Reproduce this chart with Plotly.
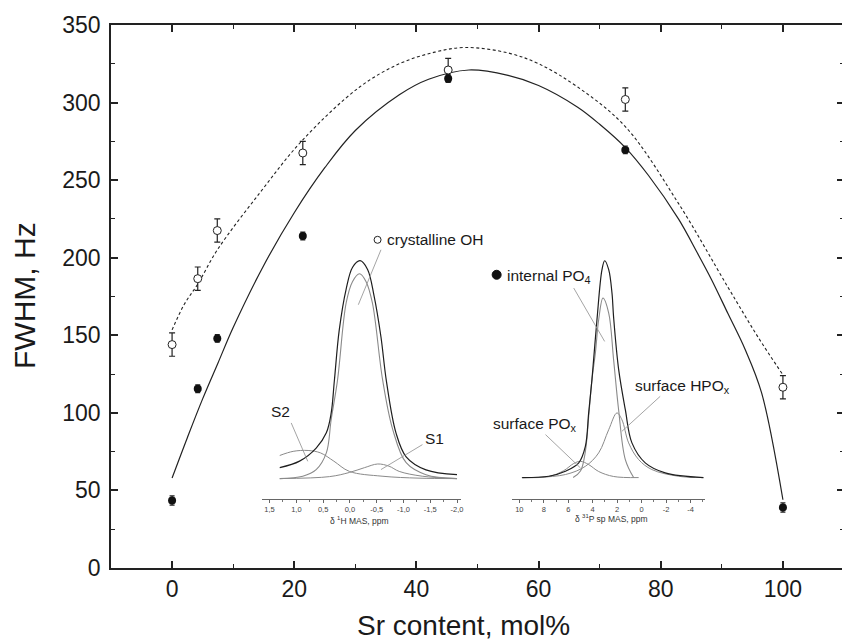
import plotly.graph_objects as go

# ---------------- data ----------------
sr_content = [0, 4.2, 7.4, 21.4, 45.2, 74.2, 100]
fwhm_po4 = [43.5, 115.5, 148, 214, 315.5, 269.5, 39]
err_po4 = [3, 2.5, 2.5, 2.5, 2.5, 2.5, 3]
fwhm_oh = [144, 186.5, 217.5, 267.5, 321, 302, 116.5]
err_oh = [7.5, 7.5, 7.5, 7.5, 7.5, 7.5, 7.5]

fit_po4_x = [0, 2.5, 5, 7.5, 10, 15, 20, 25, 30, 37.2, 42, 48.6, 55, 60, 66.4, 70, 74.2,
             78, 82.9, 86, 88.3, 91, 93.8, 96.5, 100]
fit_po4_y = [58, 84, 109, 132, 155, 195, 229, 258, 282, 305, 315, 321, 317.5, 311, 297, 286, 271,
             253, 225, 203, 186, 164, 141, 113, 44]

fit_oh_x = [0, 2, 4.2, 7.4, 14.4, 21.4, 30.7, 37.2, 43, 48, 55, 60, 66.4, 74.2, 82.9, 91, 95.9, 100]
fit_oh_y = [153.5, 170, 183, 205, 242, 276, 310, 325, 332.5, 335.5, 332, 325, 310, 284.5, 235,
            181, 149, 124.5]

# inset 1: 1H MAS spectrum (ppm, relative intensity)
h_exp_ppm = [1.31, 0.94, 0.63, 0.44, 0.35, 0.29, 0.20, 0.07, -0.05, -0.19, -0.33, -0.45,
             -0.58, -0.68, -0.86, -1.05, -1.42, -2.0]
h_exp_int = [0.05, 0.08, 0.14, 0.21, 0.30, 0.45, 0.68, 0.87, 0.97, 1.0, 0.96, 0.84,
             0.65, 0.45, 0.21, 0.10, 0.04, 0.018]
h_oh_ppm = [1.31, 0.88, 0.63, 0.44, 0.35, 0.23, 0.07, -0.05, -0.18, -0.30, -0.42, -0.61,
            -0.80, -1.05, -1.42, -2.0]
h_oh_int = [0.0, 0.011, 0.041, 0.118, 0.27, 0.454, 0.806, 0.905, 0.94, 0.905, 0.806, 0.454,
            0.225, 0.073, 0.018, 0.0]
h_s2_ppm = [1.31, 1.06, 0.78, 0.55, 0.30, 0.01, -0.60, -1.29, -2.0]
h_s2_int = [0.106, 0.125, 0.129, 0.118, 0.080, 0.033, 0.011, 0.002, 0.0]
h_s1_ppm = [1.31, 0.38, 0.01, -0.27, -0.52, -0.73, -0.92, -1.35, -2.0]
h_s1_int = [0.0, 0.009, 0.028, 0.050, 0.067, 0.057, 0.033, 0.011, 0.0]
h_ticks = [1.5, 1.0, 0.5, 0.0, -0.5, -1.0, -1.5, -2.0]
h_ticktext = ["1,5", "1,0", "0,5", "0,0", "-0,5", "-1,0", "-1,5", "-2,0"]

# inset 2: 31P MAS spectrum (ppm, relative intensity)
p_exp_ppm = [9.77, 7.59, 6.23, 5.14, 4.60, 4.33, 4.06, 3.65, 3.24, 3.02, 2.69, 2.42, 2.29,
             1.88, 1.33, 0.79, -0.30, -1.93, -5.06]
p_exp_int = [0.0, 0.006, 0.029, 0.068, 0.144, 0.298, 0.452, 0.728, 0.959, 1.0, 0.959, 0.85,
             0.74, 0.50, 0.313, 0.16, 0.068, 0.022, 0.0]
p_int_ppm = [5.6, 5.0, 4.6, 4.3, 4.06, 3.78, 3.51, 3.16, 2.69, 2.29, 1.88, 1.33, 0.65]
p_int_int = [0.0, 0.03, 0.12, 0.30, 0.452, 0.575, 0.728, 0.828, 0.759, 0.544, 0.313, 0.083, 0.0]
p_hpo_ppm = [8.98, 6.23, 4.60, 3.51, 2.69, 2.02, 1.61, 1.06, 0.24, -0.84, -3.02, -5.06]
p_hpo_int = [0.0, 0.014, 0.052, 0.114, 0.221, 0.298, 0.267, 0.160, 0.083, 0.037, 0.006, 0.0]
p_pox_ppm = [9.80, 7.59, 6.37, 5.55, 5.00, 4.33, 3.51, 2.29, 0.24]
p_pox_int = [0.0, 0.005, 0.032, 0.065, 0.075, 0.060, 0.028, 0.005, 0.0]
p_ticks = [10, 8, 6, 4, 2, 0, -2, -4]
p_ticktext = ["10", "8", "6", "4", "2", "0", "-2", "-4"]

# ---------------- layout helpers ----------------
# the reference frame's right edge lies just beyond the 842 px picture edge
W, H = 846, 642
L, R, T, B = 111, 0, 25, 73.5
PW, PH = W - L - R, H - T - B


def pxx(px):
    return (px - L) / PW


def pxy(py):
    return (H - B - py) / PH


FONT = "Liberation Sans, Arial, sans-serif"
GRAY = "#8a8a8a"
DARK = "#1e1e1e"

fig = go.Figure()

# main fits
fig.add_trace(go.Scatter(x=fit_oh_x, y=fit_oh_y, mode="lines", line_shape="spline",
                         line=dict(color="#222", width=1.1, dash="3px,2.5px"),
                         hoverinfo="skip", showlegend=False))
fig.add_trace(go.Scatter(x=fit_po4_x, y=fit_po4_y, mode="lines", line_shape="spline",
                         line=dict(color="#222", width=1.2), hoverinfo="skip", showlegend=False))
# data points
fig.add_trace(go.Scatter(x=sr_content, y=fwhm_oh, mode="markers",
                         error_y=dict(type="data", array=err_oh, color="#222", thickness=1.2, width=3),
                         marker=dict(symbol="circle", size=8, color="white",
                                     line=dict(color="#222", width=1)),
                         name="crystalline OH", showlegend=False))
fig.add_trace(go.Scatter(x=sr_content, y=fwhm_po4, mode="markers",
                         error_y=dict(type="data", array=err_po4, color="#222", thickness=1.2, width=2.5),
                         marker=dict(symbol="circle", size=8, color="#111"),
                         name="internal PO4", showlegend=False))

# inset 1 traces
for xs, ys, col, wd in [(h_s2_ppm, h_s2_int, GRAY, 1), (h_s1_ppm, h_s1_int, GRAY, 1),
                        (h_oh_ppm, h_oh_int, GRAY, 1.1), (h_exp_ppm, h_exp_int, DARK, 1.2)]:
    fig.add_trace(go.Scatter(x=xs, y=ys, mode="lines", line_shape="spline",
                             line=dict(color=col, width=wd), xaxis="x2", yaxis="y2",
                             hoverinfo="skip", showlegend=False))
# inset 2 traces
for xs, ys, col, wd in [(p_pox_ppm, p_pox_int, GRAY, 1), (p_hpo_ppm, p_hpo_int, GRAY, 1),
                        (p_int_ppm, p_int_int, GRAY, 1.1), (p_exp_ppm, p_exp_int, DARK, 1.2)]:
    fig.add_trace(go.Scatter(x=xs, y=ys, mode="lines", line_shape="spline",
                             line=dict(color=col, width=wd), xaxis="x3", yaxis="y3",
                             hoverinfo="skip", showlegend=False))

tickfont = dict(family=FONT, size=23, color="#1a1a1a")

inset_x_common = dict(showline=True, linecolor="#666", linewidth=1, ticks="outside",
                      ticklen=3, tickwidth=0.8, tickcolor="#666", showgrid=False, zeroline=False,
                      tickfont=dict(family=FONT, size=7.5, color="#444"),
                      minor=dict(ticks="outside", ticklen=2, tickcolor="#777", showgrid=False))

fig.update_layout(
    width=W, height=H,
    margin=dict(l=L, r=R, t=T, b=B),
    paper_bgcolor="white", plot_bgcolor="rgba(0,0,0,0)",
    showlegend=False,
    xaxis=dict(range=[-10, 110], tickvals=[0, 20, 40, 60, 80, 100], ticks="inside",
               ticklen=7, tickwidth=1.5, tickcolor="#222", showline=True, linecolor="#222",
               linewidth=1.5, mirror="allticks", showgrid=False, zeroline=False,
               tickfont=tickfont, ticklabelstandoff=0,
               minor=dict(tickvals=[10, 30, 50, 70, 90], ticks="inside", ticklen=4,
                          tickwidth=1.2, tickcolor="#222", showgrid=False)),
    yaxis=dict(range=[0, 350], dtick=50, ticks="inside", ticklen=7, tickwidth=1.5,
               tickcolor="#222", showline=True, linecolor="#222", linewidth=1.5,
               mirror="allticks", showgrid=False, zeroline=False, tickfont=tickfont,
               ticklabelstandoff=4,
               minor=dict(dtick=25, ticks="inside", ticklen=4, tickwidth=1.2,
                          tickcolor="#222", showgrid=False)),
    xaxis2=dict(domain=[pxx(262), pxx(462)], range=[1.649, -2.075], anchor="y2",
                tickvals=h_ticks, ticktext=h_ticktext, **inset_x_common),
    yaxis2=dict(domain=[pxy(499), pxy(228)], range=[-0.0917, 1.151], anchor="x2",
                visible=False),
    xaxis3=dict(domain=[pxx(513), pxx(707)], range=[10.61, -5.22], anchor="y3",
                tickvals=p_ticks, ticktext=p_ticktext, **inset_x_common),
    yaxis3=dict(domain=[pxy(499), pxy(228)], range=[-0.0968, 1.152], anchor="x3",
                visible=False),
)
fig.update_layout(xaxis2_minor_dtick=0.25, xaxis3_minor_dtick=1)

LEAD = dict(color="#9a9a9a", width=0.9)
shapes = []
for (x0, y0, x1, y1) in [(381.7, 250, 359, 305), (291.7, 423.3, 308.3, 461.7),
                         (423.3, 445, 381.7, 470), (575, 288.3, 606, 341.7),
                         (661.7, 396.7, 623.3, 431.7), (546.7, 435, 581.7, 468.3)]:
    shapes.append(dict(type="line", xref="paper", yref="paper", x0=pxx(x0), y0=pxy(y0),
                       x1=pxx(x1), y1=pxy(y1), line=LEAD))
# legend symbols
shapes.append(dict(type="circle", xref="paper", yref="paper", xsizemode="pixel", ysizemode="pixel",
                   xanchor=pxx(378.3), yanchor=pxy(240), x0=-3.5, x1=3.5, y0=-3.5, y1=3.5,
                   fillcolor="white", line=dict(color="#222", width=1)))
shapes.append(dict(type="circle", xref="paper", yref="paper", xsizemode="pixel", ysizemode="pixel",
                   xanchor=pxx(497.7), yanchor=pxy(275), x0=-4.5, x1=4.5, y0=-4.5, y1=4.5,
                   fillcolor="#111", line=dict(color="#111", width=1)))
fig.update_layout(shapes=shapes)

LBL = dict(family=FONT, size=15.5, color="#1a1a1a")
ann = []


def label(text, px, py, xanchor="left", font=LBL):
    ann.append(dict(text=text, xref="paper", yref="paper", x=pxx(px), y=pxy(py),
                    xanchor=xanchor, yanchor="middle", showarrow=False, font=font))


label("crystalline OH", 386, 240)
label("S2", 281, 412, "center")
label("S1", 435, 439, "center")
label("internal PO<sub>4</sub>", 506.5, 277)
label("surface HPO<sub>x</sub>", 634, 387)
label("surface PO<sub>x</sub>", 492.5, 425)
SMALL = dict(family=FONT, size=8.5, color="#333")
label("δ <sup>1</sup>H MAS, ppm", 360, 521, "center", SMALL)
label("δ <sup>31</sup>P sp MAS, ppm", 613, 519, "center", SMALL)
# axis titles
ann.append(dict(text="Sr content, mol%", xref="paper", yref="paper", x=pxx(464), y=pxy(626),
                xanchor="center", yanchor="middle", showarrow=False,
                font=dict(family=FONT, size=28, color="#1a1a1a")))
ann.append(dict(text="FWHM, Hz", xref="paper", yref="paper", x=pxx(25), y=pxy(296),
                xanchor="center", yanchor="middle", showarrow=False, textangle=-90,
                font=dict(family=FONT, size=30, color="#1a1a1a")))
fig.update_layout(annotations=ann)

fig.write_html("out.html", config={"displayModeBar": False},
               post_script="document.body.style.margin='0px';"
                           "document.body.style.overflow='hidden';")
